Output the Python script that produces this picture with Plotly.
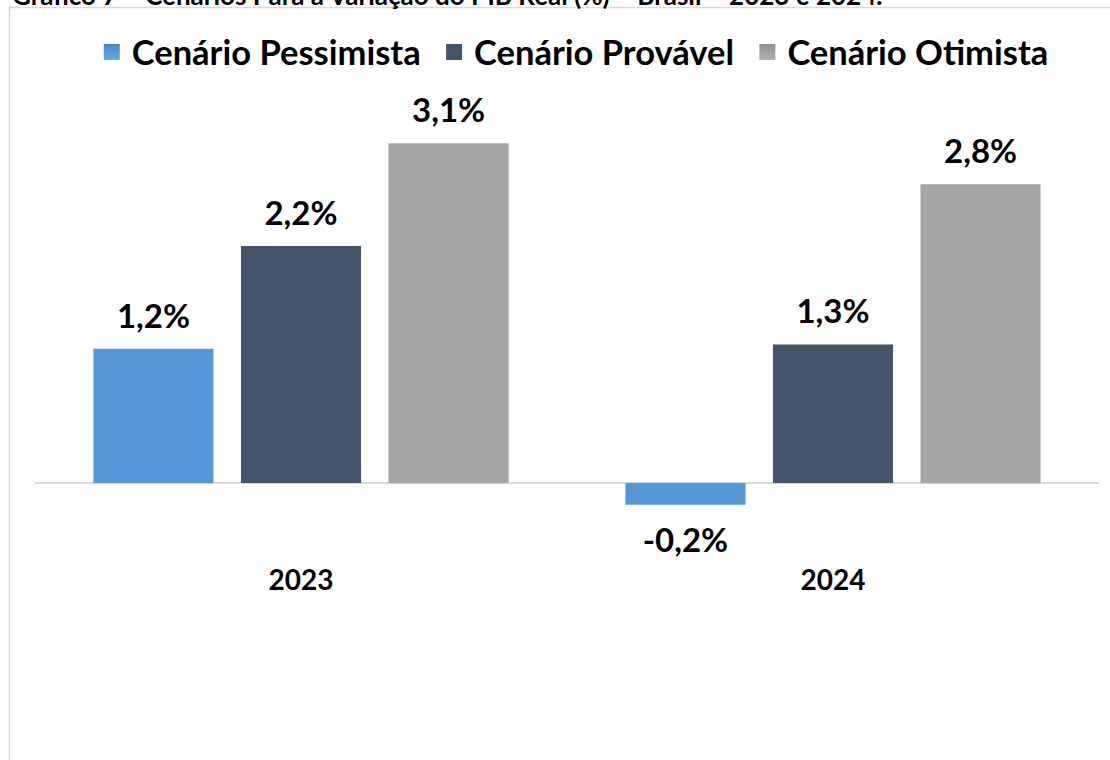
import plotly.graph_objects as go

# ---- data ----
anos = ["2023", "2024"]
series_nomes = ["Cenário Pessimista", "Cenário Provável", "Cenário Otimista"]
pessimista = [1.24, -0.20]
provavel = [2.19, 1.28]
otimista = [3.14, 2.76]
titulo = "Gráfico 7 – Cenários Para a Variação do PIB Real (%) – Brasil – 2023 e 2024."

valores = [pessimista, provavel, otimista]
cores = ["#5597d5", "#44546a", "#a6a6a6"]
cores_top = ["#6fa8dc", "#44546a", "#b2b2b2"]
cores_bot = ["#3f87c8", "#44546a", "#8f8f8f"]

FONT = "Lato"
W, H = 1110, 760

fig = go.Figure()

for i, (nome, vals) in enumerate(zip(series_nomes, valores)):
    fig.add_trace(go.Bar(
        x=anos, y=vals, name=nome, showlegend=False,
        marker=dict(color=cores[i], line=dict(width=0)),
        offsetgroup=str(i), hoverinfo="skip",
    ))

for i, (nome, vals) in enumerate(zip(series_nomes, valores)):
    fig.add_trace(go.Scatter(
        x=anos, y=vals, mode="markers+text", showlegend=False,
        text=[f"{v:.1f}%".replace(".", ",") for v in vals],
        textposition=["top center" if v >= 0 else "bottom center" for v in vals],
        textfont=dict(family=FONT, size=33, color="#000000", weight=700),
        marker=dict(size=[19 if v >= 0 else 34 for v in vals], opacity=0),
        offsetgroup=str(i), alignmentgroup="lbl", hoverinfo="skip",
        cliponaxis=False,
    ))

# legend entries (on hidden axes)
n = len(series_nomes)
for i, nome in enumerate(series_nomes):
    fig.add_trace(go.Scatter(
        x=[None], y=[None], mode="markers",
        name=nome + ("\u00a0" if i < n - 1 else ""),
        marker=dict(symbol="square", size=16, color=cores_bot[i],
                    gradient=dict(type="vertical", color=cores_top[i]),
                    line=dict(width=0)),
        xaxis="x2", yaxis="y2",
    ))

k = 108.2
zero_px = 483
ymin = -(H - zero_px) / k
ymax = zero_px / k

fig.update_layout(
    width=W, height=H,
    margin=dict(l=0, r=0, t=0, b=0),
    paper_bgcolor="white", plot_bgcolor="rgba(0,0,0,0)",
    barmode="group", bargap=0.168, bargroupgap=0.186,
    scattermode="group", scattergap=0.168,
    separators=",.",
    showlegend=True,
    legend=dict(
        orientation="h", x=0.516, xanchor="center", y=1 - 23 / H, yanchor="top",
        font=dict(family=FONT, size=34.5, color="#000000", weight=700),
        itemsizing="trace", bgcolor="rgba(0,0,0,0)", traceorder="normal",
    ),
    xaxis=dict(
        domain=[35 / W, 1099 / W], range=[-0.5, 1.5], type="category",
        showgrid=False, showline=False, ticks="", zeroline=False,
        anchor="free", position=(H - 561) / H,
        tickfont=dict(family=FONT, size=28, color="#000000", weight=700),
    ),
    yaxis=dict(
        domain=[0, 1], range=[ymin, ymax], showgrid=False, showticklabels=False,
        zeroline=True, zerolinecolor="#d9d9d9", zerolinewidth=2, ticks="",
    ),
    xaxis2=dict(visible=False, overlaying="x", domain=[0, 1]),
    yaxis2=dict(visible=False, overlaying="y", domain=[0, 1]),
    shapes=[dict(type="rect", xref="paper", yref="paper",
                 x0=9.5 / W, x1=1.02, y0=-0.02, y1=1 - 7.5 / H,
                 line=dict(color="#d9d9d9", width=1.5), fillcolor="rgba(0,0,0,0)",
                 layer="below")],
    annotations=[dict(text=titulo, xref="paper", yref="paper", x=10 / W, y=1,
                      xanchor="left", yanchor="middle", yshift=5, showarrow=False,
                      font=dict(family=FONT, size=26, color="#000000", weight=700))],
)

fig.write_html("out.html")
